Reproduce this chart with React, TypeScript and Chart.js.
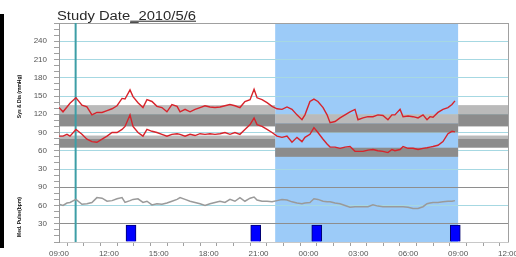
import React, { useEffect, useRef } from 'react';
import { Chart, registerables } from 'chart.js';

Chart.register(...registerables);

const TITLE_MAIN = 'Study Date';
const TITLE_DATE = '_2010/5/6';
const Y_TITLE_BP = 'Sys & Dia (mmHg)';
const Y_TITLE_PULSE = 'Med. Pulse(bpm)';

// x axis: hours since 09:00
const X_TICK_LABELS = ['09:00', '12:00', '15:00', '18:00', '21:00', '00:00', '03:00', '06:00', '09:00', '12:00'];
const Y_TICKS_BP = [30, 60, 90, 120, 150, 180, 210, 240];
const Y_TICKS_PULSE = [30, 60, 90];

const BP_TIMES = [0.00, 0.24, 0.48, 0.66, 1.02, 1.38, 1.68, 1.98, 2.28, 2.59, 2.89, 3.19, 3.49, 3.79, 3.97, 4.27, 4.45, 4.75, 5.05, 5.29, 5.59, 5.89, 6.19, 6.49, 6.79, 7.10, 7.28, 7.58, 7.88, 8.18, 8.48, 8.78, 9.08, 9.38, 9.68, 9.98, 10.28, 10.58, 10.88, 11.18, 11.49, 11.73, 11.91, 12.21, 12.51, 12.81, 13.11, 13.41, 13.71, 14.01, 14.31, 14.61, 14.79, 15.09, 15.33, 15.57, 15.88, 16.12, 16.30, 16.60, 16.90, 17.20, 17.50, 17.80, 17.98, 18.28, 18.58, 18.88, 19.18, 19.48, 19.78, 20.02, 20.20, 20.51, 20.69, 20.99, 21.29, 21.59, 21.89, 22.13, 22.31, 22.49, 22.79, 23.09, 23.39, 23.63, 23.81];
const SYS = [131, 124, 132, 138, 147, 135, 132, 119, 123, 123, 126, 129, 134, 146, 145, 160, 149, 139, 131, 144, 141, 133, 131, 124, 136, 133, 124, 128, 124, 128, 131, 134, 132, 131, 132, 134, 136, 134, 131, 141, 144, 161, 147, 144, 139, 133, 129, 128, 132, 128, 119, 111, 119, 141, 145, 141, 131, 119, 106, 108, 114, 119, 124, 128, 111, 114, 116, 116, 119, 118, 111, 119, 119, 128, 116, 117, 116, 114, 119, 111, 116, 115, 123, 128, 131, 136, 142];
const DIA = [84, 84, 87, 84, 95, 87, 79, 75, 74, 79, 84, 90, 90, 95, 100, 119, 100, 90, 84, 95, 92, 90, 87, 84, 87, 88, 87, 84, 87, 85, 88, 87, 88, 87, 88, 90, 87, 90, 87, 95, 103, 114, 103, 100, 95, 90, 84, 82, 84, 74, 82, 75, 82, 87, 98, 90, 79, 71, 66, 66, 64, 66, 67, 59, 59, 59, 61, 62, 60, 59, 57, 62, 60, 62, 67, 64, 64, 62, 64, 65, 66, 67, 69, 75, 88, 92, 91];
const PULSE = [62, 60, 64, 65, 70, 62, 63, 65, 73, 72, 67, 68, 71, 73, 65, 68, 70, 71, 65, 67, 61, 63, 62, 64, 67, 70, 73, 70, 67, 65, 63, 60, 63, 65, 67, 65, 70, 67, 73, 67, 72, 74, 69, 67, 67, 66, 68, 70, 69, 66, 64, 63, 64, 65, 71, 70, 67, 66, 66, 64, 63, 60, 57, 58, 58, 58, 58, 61, 59, 58, 58, 58, 58, 58, 58, 57, 55, 55, 58, 63, 64, 65, 65, 66, 67, 67, 68];

const EVENT_TIMES = [4.33, 11.83, 15.5, 23.83];
const EVENT_VALUES = [28, 28, 28, 28];

const MARKER_TIME = 1.0;
const NIGHT_START = 13;
const NIGHT_END = 24;
const DAY_PERIOD_STARTS = [0, 24];
const DAY_PERIOD_ENDS = [13, 27];
const DAY_BAND_LOW = [120, 100, 80, 65];
const DAY_BAND_HIGH = [135, 120, 85, 80];
const DAY_BAND_SHADE = ['light', 'dark', 'light', 'dark'];
const NIGHT_BAND_LOW = [105, 90, 50];
const NIGHT_BAND_HIGH = [120, 105, 65];
const NIGHT_BAND_SHADE = ['light', 'dark', 'dark'];

const LIGHT = '#bababa';
const DARK = '#8c8c8c';
const NIGHT_COLOR = '#9ccbf8';
const TEAL_GRID = '#a6d8e2';
const GRAY_LINE = '#8e8e8e';
const FONT = '"Liberation Sans", Arial, sans-serif';

const decorPlugin = {
  id: 'decor',
  beforeDraw(chart: any) {
    const { ctx, chartArea, scales } = chart;
    const x = scales.x;
    ctx.save();
    ctx.fillStyle = NIGHT_COLOR;
    const x1 = x.getPixelForValue(NIGHT_START);
    const x2 = x.getPixelForValue(NIGHT_END);
    ctx.fillRect(x1, chartArea.top, x2 - x1, chartArea.bottom - chartArea.top);
    ctx.restore();
  },
  beforeDatasetsDraw(chart: any) {
    const { ctx, chartArea, scales } = chart;
    const x = scales.x;
    const y = scales.yBP;
    ctx.save();
    const band = (t0: number, t1: number, lo: number, hi: number, shade: string) => {
      const a = x.getPixelForValue(t0);
      const b = x.getPixelForValue(t1);
      const top = y.getPixelForValue(hi);
      const bot = y.getPixelForValue(lo);
      ctx.fillStyle = shade === 'light' ? LIGHT : DARK;
      ctx.fillRect(a, top, b - a, bot - top);
    };
    DAY_PERIOD_STARTS.forEach((s, p) => {
      DAY_BAND_LOW.forEach((lo, i) => band(s, DAY_PERIOD_ENDS[p], lo, DAY_BAND_HIGH[i], DAY_BAND_SHADE[i]));
    });
    NIGHT_BAND_LOW.forEach((lo, i) => band(NIGHT_START, NIGHT_END, lo, NIGHT_BAND_HIGH[i], NIGHT_BAND_SHADE[i]));
    // marker line
    const mx = x.getPixelForValue(MARKER_TIME);
    ctx.strokeStyle = '#3d9ea6';
    ctx.lineWidth = 2;
    ctx.beginPath();
    ctx.moveTo(mx, chartArea.top);
    ctx.lineTo(mx, chartArea.bottom);
    ctx.stroke();
    // right border
    ctx.strokeStyle = '#a0a0a0';
    ctx.lineWidth = 1;
    ctx.beginPath();
    ctx.moveTo(chartArea.right + 0.5, chartArea.top);
    ctx.lineTo(chartArea.right + 0.5, chartArea.bottom);
    ctx.stroke();
    ctx.restore();
  },
  afterDraw(chart: any) {
    const { ctx, scales } = chart;
    ctx.save();
    // main title
    ctx.font = '12px ' + FONT;
    ctx.fillStyle = '#2a2a2a';
    ctx.textBaseline = 'alphabetic';
    const full = TITLE_MAIN + TITLE_DATE;
    const w = ctx.measureText(full).width;
    const sx = 139 / w;
    ctx.translate(57, 19.5);
    ctx.scale(sx, 1);
    ctx.fillText(full, 0, 0);
    const wMain = ctx.measureText(TITLE_MAIN).width;
    ctx.fillRect(wMain, 1.2, w - wMain, 1);
    ctx.restore();

    // axis titles
    const drawV = (text: string, cx: number, cy: number) => {
      ctx.save();
      ctx.translate(cx, cy);
      ctx.rotate(-Math.PI / 2);
      ctx.font = 'bold 5px ' + FONT;
      ctx.fillStyle = '#111';
      ctx.textAlign = 'center';
      ctx.textBaseline = 'middle';
      ctx.fillText(text, 0, 0);
      ctx.restore();
    };
    drawV(Y_TITLE_BP, 19.5, 96.5);
    drawV(Y_TITLE_PULSE, 19.5, 217);
  },
};

export default function App() {
  const ref = useRef<HTMLCanvasElement | null>(null);

  useEffect(() => {
    if (!ref.current) return;
    const bpSys = BP_TIMES.map((t, i) => ({ x: t, y: SYS[i] }));
    const bpDia = BP_TIMES.map((t, i) => ({ x: t, y: DIA[i] }));
    const pulse = BP_TIMES.map((t, i) => ({ x: t, y: PULSE[i] }));
    const events = EVENT_TIMES.map((t, i) => ({ x: t, y: EVENT_VALUES[i] }));

    const chart = new Chart(ref.current, {
      type: 'line',
      data: {
        datasets: [
          { label: 'Sys', data: bpSys, yAxisID: 'yBP', borderColor: '#d7232b', borderWidth: 1.4, pointRadius: 0, tension: 0 } as any,
          { label: 'Dia', data: bpDia, yAxisID: 'yBP', borderColor: '#d7232b', borderWidth: 1.4, pointRadius: 0, tension: 0 } as any,
          { label: 'Pulse', data: pulse, yAxisID: 'yP', borderColor: '#9a9a9a', borderWidth: 1.5, pointRadius: 0, tension: 0 } as any,
          { type: 'bar', label: 'Events', data: events, yAxisID: 'yP', backgroundColor: '#0000ff', borderColor: '#00006e', borderWidth: 1, barThickness: 10 } as any,
        ],
      },
      options: {
        animation: false,
        responsive: false,
        events: [],
        layout: { padding: { top: 23, right: 8, bottom: 0, left: 0 } },
        plugins: { legend: { display: false }, tooltip: { enabled: false }, title: { display: false } },
        scales: {
          x: {
            type: 'linear',
            min: 0,
            max: 27,
            offset: false,
            afterFit: (s: any) => { s.height = 15; s.paddingLeft = 0; s.paddingRight = 0; },
            ticks: {
              stepSize: 1,
              autoSkip: false,
              maxRotation: 0,
              padding: 3,
              color: '#555',
              font: { size: 8, family: FONT },
              callback: (v: any) => (Number(v) % 3 === 0 ? X_TICK_LABELS[Number(v) / 3] : ''),
            },
            grid: { display: true, drawOnChartArea: false, drawTicks: true, tickLength: 4, tickColor: '#a0a0a0' },
            border: { display: true, color: '#c8c8c8' },
          },
          yP: {
            type: 'linear',
            position: 'left',
            stack: 'v',
            stackWeight: 1,
            min: 0,
            max: 90,
            afterFit: (s: any) => { s.width = 59; },
            ticks: {
              stepSize: 10,
              autoSkip: false,
              padding: 7,
              color: '#555',
              font: { size: 8, family: FONT },
              callback: (v: any) => (Y_TICKS_PULSE.includes(Number(v)) ? String(v) : ''),
            },
            grid: {
              tickLength: 5,
              tickColor: '#a0a0a0',
              color: (c: any) => {
                const v = c.tick ? c.tick.value : -1;
                if (v === 90 || v === 30) return GRAY_LINE;
                if (v === 60) return TEAL_GRID;
                return 'rgba(0,0,0,0)';
              },
            },
            border: { display: true, color: '#999' },
          },
          yBP: {
            type: 'linear',
            position: 'left',
            stack: 'v',
            stackWeight: 3,
            min: 0,
            max: 270,
            afterFit: (s: any) => { s.width = 59; },
            ticks: {
              stepSize: 10,
              autoSkip: false,
              padding: 7,
              color: '#555',
              font: { size: 8, family: FONT },
              callback: (v: any) => (Y_TICKS_BP.includes(Number(v)) ? String(v) : ''),
            },
            grid: {
              tickLength: 5,
              tickColor: '#a0a0a0',
              color: (c: any) => {
                const v = c.tick ? c.tick.value : -1;
                if (v === 270) return '#a0a0a0';
                if (v > 0 && v % 30 === 0) return TEAL_GRID;
                return 'rgba(0,0,0,0)';
              },
            },
            border: { display: true, color: '#999' },
          },
        } as any,
      },
      plugins: [decorPlugin],
    } as any);
    return () => chart.destroy();
  }, []);

  return (
    <div style={{ position: 'fixed', left: 0, top: 0, width: 516, height: 257, background: '#fff', overflow: 'hidden' }}>
      <div style={{ position: 'absolute', left: 0, top: 14, width: 4, height: 234, background: '#000' }} />
      <canvas ref={ref} width={516} height={257} style={{ position: 'absolute', left: 0, top: 0, width: 516, height: 257 }} />
    </div>
  );
}
